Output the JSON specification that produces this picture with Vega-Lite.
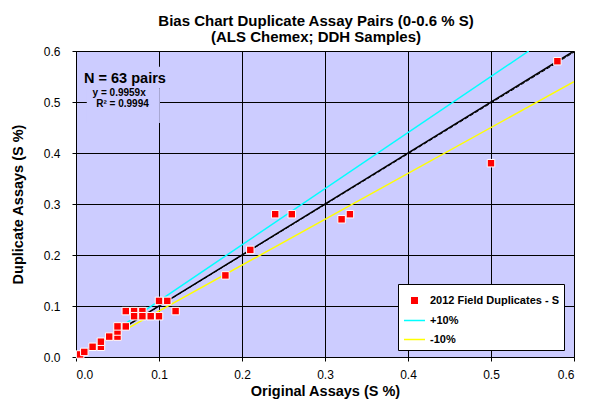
{
  "$schema": "https://vega.github.io/schema/vega-lite/v6.json",
  "width": 498,
  "height": 306,
  "autosize": "none",
  "padding": {"left": 76, "top": 51, "right": 18, "bottom": 54},
  "background": "white",
  "config": {
    "font": "Liberation Sans",
    "view": {"fill": "#CCCCFF", "stroke": "#808080", "strokeWidth": 1},
    "axis": {
      "labelFont": "Liberation Sans", "labelFontSize": 12, "labelColor": "black",
      "titleFont": "Liberation Sans", "titleFontSize": 14.5, "titleFontWeight": "bold", "titleColor": "black",
      "domainColor": "black", "tickColor": "black", "tickSize": 4,
      "gridColor": "#000000", "gridOpacity": 1, "gridWidth": 1
    }
  },
  "title": {
    "text": ["Bias Chart Duplicate Assay Pairs (0-0.6 % S)", "(ALS Chemex; DDH Samples)"],
    "font": "Liberation Sans", "fontSize": 15, "fontWeight": "bold", "color": "black",
    "lineHeight": 16, "offset": 0, "dx": -9, "anchor": "middle"
  },
  "datasets": {
    "points": [
      {"orig": 0.005, "dup": 0.005, "series": "2012 Field Duplicates - S"},
      {"orig": 0.01, "dup": 0.01, "series": "2012 Field Duplicates - S"},
      {"orig": 0.02, "dup": 0.02, "series": "2012 Field Duplicates - S"},
      {"orig": 0.03, "dup": 0.02, "series": "2012 Field Duplicates - S"},
      {"orig": 0.03, "dup": 0.03, "series": "2012 Field Duplicates - S"},
      {"orig": 0.04, "dup": 0.04, "series": "2012 Field Duplicates - S"},
      {"orig": 0.05, "dup": 0.04, "series": "2012 Field Duplicates - S"},
      {"orig": 0.05, "dup": 0.05, "series": "2012 Field Duplicates - S"},
      {"orig": 0.05, "dup": 0.06, "series": "2012 Field Duplicates - S"},
      {"orig": 0.06, "dup": 0.06, "series": "2012 Field Duplicates - S"},
      {"orig": 0.06, "dup": 0.09, "series": "2012 Field Duplicates - S"},
      {"orig": 0.07, "dup": 0.09, "series": "2012 Field Duplicates - S"},
      {"orig": 0.08, "dup": 0.09, "series": "2012 Field Duplicates - S"},
      {"orig": 0.07, "dup": 0.08, "series": "2012 Field Duplicates - S"},
      {"orig": 0.08, "dup": 0.08, "series": "2012 Field Duplicates - S"},
      {"orig": 0.09, "dup": 0.08, "series": "2012 Field Duplicates - S"},
      {"orig": 0.10, "dup": 0.08, "series": "2012 Field Duplicates - S"},
      {"orig": 0.10, "dup": 0.11, "series": "2012 Field Duplicates - S"},
      {"orig": 0.11, "dup": 0.11, "series": "2012 Field Duplicates - S"},
      {"orig": 0.12, "dup": 0.09, "series": "2012 Field Duplicates - S"},
      {"orig": 0.18, "dup": 0.16, "series": "2012 Field Duplicates - S"},
      {"orig": 0.21, "dup": 0.21, "series": "2012 Field Duplicates - S"},
      {"orig": 0.24, "dup": 0.28, "series": "2012 Field Duplicates - S"},
      {"orig": 0.26, "dup": 0.28, "series": "2012 Field Duplicates - S"},
      {"orig": 0.32, "dup": 0.27, "series": "2012 Field Duplicates - S"},
      {"orig": 0.33, "dup": 0.28, "series": "2012 Field Duplicates - S"},
      {"orig": 0.50, "dup": 0.38, "series": "2012 Field Duplicates - S"},
      {"orig": 0.58, "dup": 0.58, "series": "2012 Field Duplicates - S"}
    ],
    "refLines": [
      {"series": "1:1", "orig": 0, "dup": 0},
      {"series": "1:1", "orig": 0.6, "dup": 0.6},
      {"series": "trend", "orig": 0, "dup": 0},
      {"series": "trend", "orig": 0.6, "dup": 0.5975}
    ],
    "bands": [
      {"series": "+10%", "orig": 0.06, "dup": 0.066},
      {"series": "+10%", "orig": 0.5455, "dup": 0.6},
      {"series": "-10%", "orig": 0.06, "dup": 0.054},
      {"series": "-10%", "orig": 0.6, "dup": 0.54}
    ],
    "notes": [
      {"label": "N = 63 pairs"},
      {"label": "y = 0.9959x"},
      {"label": "R² = 0.9994"}
    ]
  },
  "layer": [
    {
      "data": {"name": "refLines"},
      "transform": [{"filter": "datum.series === '1:1'"}],
      "mark": {"type": "line", "stroke": "black", "strokeWidth": 1.5, "clip": true},
      "encoding": {
        "x": {
          "field": "orig", "type": "quantitative",
          "scale": {"domain": [0, 0.6], "nice": false, "zero": false},
          "axis": {"title": "Original Assays (S %)", "values": [0, 0.1, 0.2, 0.3, 0.4, 0.5, 0.6], "format": ".1f", "grid": true, "labelPadding": 8, "titleY": 27}
        },
        "y": {
          "field": "dup", "type": "quantitative",
          "scale": {"domain": [0, 0.6], "nice": false, "zero": false},
          "axis": {"title": "Duplicate Assays (S %)", "values": [0, 0.1, 0.2, 0.3, 0.4, 0.5, 0.6], "format": ".1f", "grid": true, "labelPadding": 12, "titleX": -51, "titleY": 153}
        },
        "detail": {"field": "series"}
      }
    },
    {
      "data": {"name": "refLines"},
      "transform": [{"filter": "datum.series === 'trend'"}],
      "mark": {"type": "line", "stroke": "black", "strokeWidth": 1, "strokeDash": [4, 2], "clip": true},
      "encoding": {
        "x": {"field": "orig", "type": "quantitative"},
        "y": {"field": "dup", "type": "quantitative"},
        "detail": {"field": "series"}
      }
    },
    {
      "data": {"name": "bands"},
      "mark": {"type": "line", "strokeWidth": 1.5, "clip": true},
      "encoding": {
        "x": {"field": "orig", "type": "quantitative"},
        "y": {"field": "dup", "type": "quantitative"},
        "detail": {"field": "series"},
        "color": {
          "field": "series", "type": "nominal",
          "scale": {"domain": ["2012 Field Duplicates - S", "+10%", "-10%"], "range": ["#FF0000", "#00FFFF", "#FFFF00"]},
          "legend": {
            "orient": "none", "legendX": 322, "legendY": 233, "title": null,
            "padding": 5, "fillColor": "white", "strokeColor": "black",
            "labelFont": "Liberation Sans", "labelFontSize": 11, "labelFontWeight": "bold", "labelColor": "black",
            "rowPadding": 2, "labelOffset": 4,
            "encode": {
              "symbols": {
                "update": {
                  "shape": {"signal": "datum.value === '2012 Field Duplicates - S' ? 'square' : 'stroke'"},
                  "size": {"signal": "datum.value === '2012 Field Duplicates - S' ? 30 : 441"},
                  "fill": {"signal": "datum.value === '2012 Field Duplicates - S' ? '#FF0000' : 'transparent'"},
                  "stroke": {"signal": "datum.value === '2012 Field Duplicates - S' ? 'transparent' : (datum.value === '+10%' ? '#00FFFF' : '#FFFF00')"},
                  "strokeWidth": {"value": 1.5},
                  "opacity": {"value": 1}
                }
              }
            }
          }
        }
      }
    },
    {
      "data": {"name": "points"},
      "mark": {"type": "point", "shape": "square", "filled": true, "size": 56, "stroke": "white", "strokeWidth": 1, "opacity": 1},
      "encoding": {
        "x": {"field": "orig", "type": "quantitative"},
        "y": {"field": "dup", "type": "quantitative"},
        "color": {
          "field": "series", "type": "nominal",
          "scale": {"domain": ["2012 Field Duplicates - S", "+10%", "-10%"], "range": ["#FF0000", "#00FFFF", "#FFFF00"]},
          "legend": {
            "orient": "none", "legendX": 322, "legendY": 233, "title": null,
            "padding": 5, "fillColor": "white", "strokeColor": "black",
            "labelFont": "Liberation Sans", "labelFontSize": 11, "labelFontWeight": "bold", "labelColor": "black",
            "rowPadding": 2, "labelOffset": 4,
            "encode": {
              "symbols": {
                "update": {
                  "shape": {"signal": "datum.value === '2012 Field Duplicates - S' ? 'square' : 'stroke'"},
                  "size": {"signal": "datum.value === '2012 Field Duplicates - S' ? 30 : 441"},
                  "fill": {"signal": "datum.value === '2012 Field Duplicates - S' ? '#FF0000' : 'transparent'"},
                  "stroke": {"signal": "datum.value === '2012 Field Duplicates - S' ? 'transparent' : (datum.value === '+10%' ? '#00FFFF' : '#FFFF00')"},
                  "strokeWidth": {"value": 1.5},
                  "opacity": {"value": 1}
                }
              }
            }
          }
        }
      }
    },
    {
      "data": {"name": "notes"},
      "transform": [{"filter": "datum.label === 'N = 63 pairs'"}],
      "mark": {"type": "rect", "fill": "#CCCCFF"},
      "encoding": {
        "x": {"datum": 0.006, "type": "quantitative"},
        "x2": {"datum": 0.11},
        "y": {"datum": 0.527, "type": "quantitative"},
        "y2": {"datum": 0.569}
      }
    },
    {
      "data": {"name": "notes"},
      "transform": [{"filter": "datum.label === 'y = 0.9959x'"}],
      "mark": {"type": "rect", "fill": "#CCCCFF"},
      "encoding": {
        "x": {"datum": 0.013, "type": "quantitative"},
        "x2": {"datum": 0.101},
        "y": {"datum": 0.459, "type": "quantitative"},
        "y2": {"datum": 0.527}
      }
    },
    {
      "data": {"name": "notes"},
      "transform": [{"filter": "datum.label === 'N = 63 pairs'"}],
      "mark": {"type": "text", "fontSize": 14.5, "fontWeight": "bold", "font": "Liberation Sans", "color": "black", "align": "center", "baseline": "middle"},
      "encoding": {
        "text": {"field": "label"},
        "x": {"datum": 0.059, "type": "quantitative"},
        "y": {"datum": 0.545, "type": "quantitative"}
      }
    },
    {
      "data": {"name": "notes"},
      "transform": [{"filter": "datum.label === 'y = 0.9959x'"}],
      "mark": {"type": "text", "fontSize": 10, "fontWeight": "bold", "font": "Liberation Sans", "color": "black", "align": "center", "baseline": "middle"},
      "encoding": {
        "text": {"field": "label"},
        "x": {"datum": 0.052, "type": "quantitative"},
        "y": {"datum": 0.517, "type": "quantitative"}
      }
    },
    {
      "data": {"name": "notes"},
      "transform": [{"filter": "datum.label === 'R² = 0.9994'"}],
      "mark": {"type": "text", "fontSize": 10, "fontWeight": "bold", "font": "Liberation Sans", "color": "black", "align": "center", "baseline": "middle"},
      "encoding": {
        "text": {"field": "label"},
        "x": {"datum": 0.056, "type": "quantitative"},
        "y": {"datum": 0.4955, "type": "quantitative"}
      }
    }
  ]
}
